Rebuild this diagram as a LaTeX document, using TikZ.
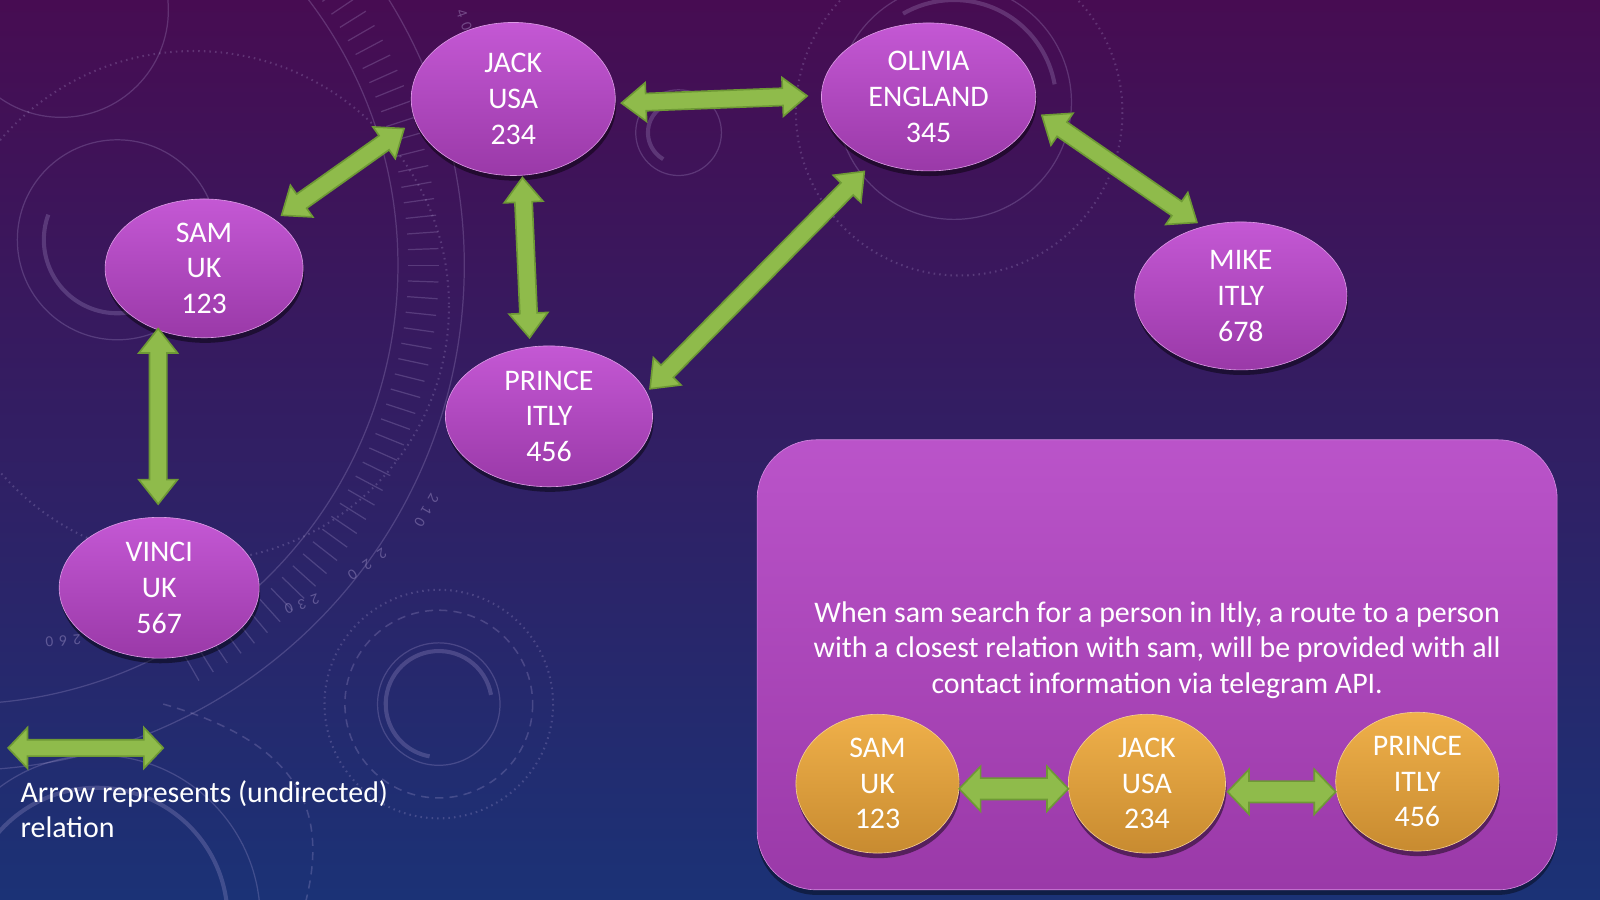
\documentclass[tikz,border=0pt]{standalone}
\usepackage{fontspec}
\setmainfont{Carlito}
\usetikzlibrary{shapes.geometric,calc,shadows}

\definecolor{bgtop}{HTML}{470C52}
\definecolor{bgmid}{HTML}{33196A}
\definecolor{bgbot}{HTML}{1B3276}
\definecolor{ptop}{HTML}{C458D4}
\definecolor{pbot}{HTML}{9A39A8}
\definecolor{otop}{HTML}{EFB04A}
\definecolor{obot}{HTML}{C88B30}
\definecolor{gfill}{HTML}{8FBB4B}
\definecolor{gline}{HTML}{6E9935}
\definecolor{deco}{HTML}{C8B8E8}

\tikzset{
  person/.style={ellipse, inner sep=0pt, text=white, align=center,
    font=\fontsize{29.3}{35}\selectfont, top color=ptop, bottom color=pbot,
    draw=ptop!60!white, line width=0.6pt,
    drop shadow={shadow xshift=1pt, shadow yshift=-5pt, opacity=0.45, fill=black}},
  route/.style={person, top color=otop, bottom color=obot, draw=otop!60!white},
  panel/.style={rectangle, rounded corners=58pt, inner sep=0pt,
    top color=ptop!95!black, bottom color=pbot, draw=ptop!70!white, line width=0.6pt,
    drop shadow={shadow xshift=0pt, shadow yshift=-5pt, opacity=0.4, fill=black}},
  garrow/.style={fill=gfill, draw=gline, line width=1.6pt, line join=miter},
  deco/.style={draw=deco, opacity=0.22, line width=1.2pt},
  decothick/.style={draw=deco, opacity=0.22, line width=4pt},
  decodot/.style={draw=deco, opacity=0.22, line width=2pt, dash pattern=on 1.5pt off 4pt},
  decodash/.style={draw=deco, opacity=0.22, line width=1.5pt, dash pattern=on 8pt off 6pt},
  deconum/.style={text=deco, opacity=0.35, font=\fontsize{15}{15}\selectfont, inner sep=0pt},
  plain/.style={text=white, font=\fontsize{29.3}{35}\selectfont, inner sep=0pt},
}

% double block arrow: #1 from, #2 to, #3 head length, #4 head half width, #5 shaft half width
\newcommand\dblarrow[5]{%
  \draw[garrow] (#1)
    -- ($(#1)!#3!(#2)!#4!90:(#2)$)
    -- ($(#1)!#3!(#2)!#5!90:(#2)$)
    -- ($(#2)!#3!(#1)!#5!-90:(#1)$)
    -- ($(#2)!#3!(#1)!#4!-90:(#1)$)
    -- (#2)
    -- ($(#2)!#3!(#1)!#4!90:(#1)$)
    -- ($(#2)!#3!(#1)!#5!90:(#1)$)
    -- ($(#1)!#3!(#2)!#5!-90:(#2)$)
    -- ($(#1)!#3!(#2)!#4!-90:(#2)$)
    -- cycle;}
\newcommand\digsp{\hspace{6pt}}
\newcommand\digspw{\hspace{10pt}}

\begin{document}
\begin{tikzpicture}[x=1pt,y=-1pt]
% background
\shade[top color=bgtop, middle color=bgmid, bottom color=bgbot] (0,0) rectangle (1568,882);
\useasboundingbox (0,0) rectangle (1568,882);

% decorative background shapes
\begin{scope}
\clip (0,0) rectangle (1568,882);
\draw[deco] (-40,260) circle (430);
\draw[deco] (-40,260) circle (495);
\foreach \a in {-60,-58,...,60} {
  \draw[deco] ($(-40,260)+(\a:440)$) -- ($(-40,260)+(\a:470)$);
}
\draw[decodot] (190,300) circle (250);
\draw[deco] (60,10) circle (105);
\draw[decothick] (60,10) ++(-30:80) arc[start angle=-30, end angle=-110, radius=80];
\draw[deco] (115,235) circle (98);
\draw[decothick] (115,235) ++(200:72) arc[start angle=200, end angle=20, radius=72];
\draw[deco] (665,130) circle (42);
\draw[decothick] (665,130) ++(120:30) arc[start angle=120, end angle=300, radius=30];
\draw[deco] (935,100) circle (115);
\draw[decodot] (940,110) circle (160);
\draw[decothick] (935,100) ++(-10:100) arc[start angle=-10, end angle=-120, radius=100];
\draw[decodot] (430,690) circle (112);
\draw[decodash] (430,690) circle (92);
\draw[deco] (430,690) circle (60);
\draw[decothick] (430,690) ++(-10:52) arc[start angle=-10, end angle=-260, radius=52];
\draw[decothick] (95,900) circle (128);
\draw[deco] (95,900) circle (160);
\draw[decodash] (160,690) .. controls (300,730) and (320,800) .. (300,882);
\node[deconum, rotate=-70] (n40) at (455,20) {4\digsp0};
\node[deconum, rotate=240] (n210) at (418,500) {2\digsp1\digsp0};
\node[deconum, rotate=215] (n220) at (360,553) {2\digspw2\digspw0};
\node[deconum, rotate=200] (n230) at (296,592) {2\digsp3\digsp0};
\node[deconum, rotate=185] (n260) at (62,628) {2\digsp6\digsp0};
\end{scope}

% legend arrow
\coordinate (la) at (8,733);
\coordinate (lb) at (160,733);
\dblarrow{la}{lb}{19pt}{20pt}{8pt}
\node[plain, anchor=west, align=left] (legend) at (20,793) {Arrow represents (undirected)\\relation};

% nodes
\node[person, minimum width=200pt, minimum height=150pt] (jack) at (503,97) {JACK\\USA\\234};
\node[person, minimum width=210pt, minimum height=145pt] (olivia) at (910,95) {OLIVIA\\ENGLAND\\345};
\node[person, minimum width=194pt, minimum height=136pt] (sam) at (200,263) {SAM\\UK\\123};
\node[person, minimum width=203pt, minimum height=138pt] (prince) at (538,408) {PRINCE\\ITLY\\456};
\node[person, minimum width=208pt, minimum height=145pt] (mike) at (1216,290) {MIKE\\ITLY\\678};
\node[person, minimum width=196pt, minimum height=138pt] (vinci) at (156,576) {VINCI\\UK\\567};

% arrow end points near the nodes
\coordinate (samj) at (276,211);
\coordinate (jacks) at (396,126);
\coordinate (jacko) at (609,101);
\coordinate (oliviaj) at (791,94);
\coordinate (jackp) at (512,174);
\coordinate (princej) at (519,331);
\coordinate (oliviap) at (847,168);
\coordinate (princeo) at (637,381);
\coordinate (oliviam) at (1021,113);
\coordinate (mikeo) at (1173,218);
\coordinate (samv) at (155,322);
\coordinate (vincis) at (155,494);

\dblarrow{samj}{jacks}{24pt}{19pt}{8.5pt}
\dblarrow{jacko}{oliviaj}{24pt}{19pt}{8.5pt}
\dblarrow{jackp}{princej}{24pt}{19pt}{8.5pt}
\dblarrow{oliviap}{princeo}{24pt}{19pt}{8.5pt}
\dblarrow{oliviam}{mikeo}{24pt}{19pt}{8.5pt}
\dblarrow{samv}{vincis}{24pt}{19pt}{8.5pt}

% panel
\node[panel, minimum width=784pt, minimum height=441pt] (box) at (1134,651.5) {};
\node[plain, align=center] (desc) at (1134,637) {When sam search for a person in Itly, a route to a person\\with a closest relation with sam, will be provided with all\\contact information via telegram API.};

\node[route, minimum width=160pt, minimum height=136pt] (rsam) at (860,768) {SAM\\UK\\123};
\node[route, minimum width=154pt, minimum height=136pt] (rjack) at (1124,768) {JACK\\USA\\234};
\node[route, minimum width=160pt, minimum height=136pt] (rprince) at (1389,766) {PRINCE\\ITLY\\456};

\coordinate (rsj) at (940,773);
\coordinate (rjs) at (1047,773);
\coordinate (rjp) at (1203,776);
\coordinate (rpj) at (1309,776);
\dblarrow{rsj}{rjs}{21pt}{22pt}{10.5pt}
\dblarrow{rjp}{rpj}{21pt}{22pt}{10.5pt}
\end{tikzpicture}
\end{document}
